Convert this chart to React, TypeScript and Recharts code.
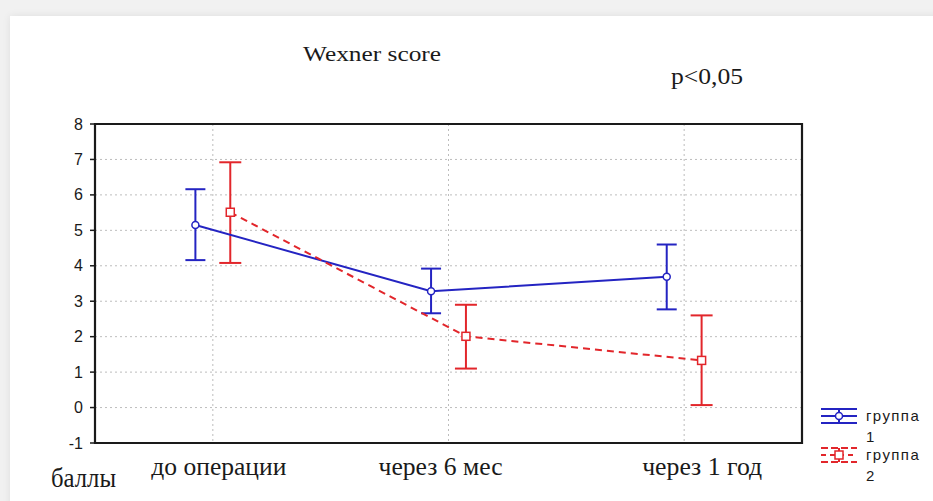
import React from 'react';
import { ComposedChart, Scatter, XAxis, YAxis, CartesianGrid, ErrorBar, ReferenceArea } from 'recharts';

const categories = ['до операции', 'через 6 мес', 'через 1 год'];
const yTicks = [-1, 0, 1, 2, 3, 4, 5, 6, 7, 8];

const group1Mean = [5.15, 3.28, 3.69];
const group1Upper = [6.16, 3.92, 4.6];
const group1Lower = [4.16, 2.66, 2.77];

const group2Mean = [5.51, 2.01, 1.33];
const group2Upper = [6.92, 2.9, 2.6];
const group2Lower = [4.08, 1.1, 0.07];

// label layout (style only)
const LABEL_WIDTHS = [135, 124, 120];
const LABEL_SHIFTS = [6, -8, 18];

const BLUE = '#2424c2';
const RED = '#e2262b';
const INK = '#1a1a1a';

const GROUP_SHIFT = 0.074;

const build = (mean: number[], upper: number[], lower: number[], shift: number) =>
  mean.map((m, i) => ({
    x: i + shift,
    y: m,
    err: [+(m - lower[i]).toFixed(3), +(upper[i] - m).toFixed(3)],
  }));

const group1 = build(group1Mean, group1Upper, group1Lower, -GROUP_SHIFT);
const group2 = build(group2Mean, group2Upper, group2Lower, GROUP_SHIFT);

const CircleMark = (props: any) => {
  const { cx, cy } = props;
  if (cx == null || cy == null) return null;
  return <circle cx={cx} cy={cy} r={3.5} fill="#fff" stroke={BLUE} strokeWidth={1.5} />;
};

const SquareMark = (props: any) => {
  const { cx, cy } = props;
  if (cx == null || cy == null) return null;
  return <rect x={cx - 4} y={cy - 4} width={8} height={8} fill="#fff" stroke={RED} strokeWidth={1.5} />;
};

const serif = "'Liberation Serif', 'Times New Roman', serif";
const sans = "'Liberation Sans', Arial, sans-serif";

const CategoryTick = (props: any) => {
  const { x, y, payload } = props;
  const i = Math.round(payload.value);
  const label = categories[i];
  if (!label) return null;
  return (
    <text
      x={x + LABEL_SHIFTS[i]}
      y={y + 24}
      textAnchor="middle"
      fontFamily={serif}
      fontSize={25}
      fill={INK}
      textLength={LABEL_WIDTHS[i]}
      lengthAdjust="spacingAndGlyphs"
    >
      {label}
    </text>
  );
};

const YTick = (props: any) => {
  const { x, y, payload } = props;
  return (
    <text x={x} y={y + 5.5} textAnchor="end" fontFamily={sans} fontSize={16} fill={INK}>
      {payload.value}
    </text>
  );
};

export default function App() {
  return (
    <div style={{ position: 'absolute', left: 0, top: 0, width: 933, height: 501, background: '#f1f1f1', overflow: 'hidden' }}>
      <div
        style={{
          position: 'absolute',
          left: 10,
          top: 16,
          width: 940,
          height: 500,
          background: '#fff',
          boxShadow: '0 0 8px rgba(0,0,0,0.08)',
        }}
      />
      <div style={{ position: 'absolute', left: 0, top: 0 }}>
        <ComposedChart width={933} height={501} margin={{ top: 124, right: 131, bottom: 28, left: 55 }}>
          <CartesianGrid stroke="#bdbdbd" strokeDasharray="2 3" strokeWidth={1} />
          <XAxis
            xAxisId={0}
            type="number"
            dataKey="x"
            domain={[-0.5, 2.5]}
            ticks={[0, 1, 2]}
            height={30}
            stroke={INK}
            axisLine={false}
            tickLine={false}
            tick={<CategoryTick />}
            interval={0}
            allowDataOverflow
          />
          <XAxis
            xAxisId="bm"
            type="number"
            orientation="bottom"
            mirror
            domain={[-0.5, 2.5]}
            ticks={[0, 1, 2]}
            stroke={INK}
            axisLine={false}
            tickLine={{ stroke: INK, strokeWidth: 1.5 }}
            tickSize={6}
            tick={false}
            allowDataOverflow
          />
          <XAxis
            xAxisId="t"
            type="number"
            orientation="top"
            mirror
            height={0}
            domain={[-0.5, 2.5]}
            ticks={[0, 1, 2]}
            stroke={INK}
            axisLine={false}
            tickLine={{ stroke: INK, strokeWidth: 1.5 }}
            tickSize={6}
            tick={false}
            allowDataOverflow
          />
          <YAxis
            yAxisId={0}
            type="number"
            dataKey="y"
            domain={[-1, 8]}
            ticks={yTicks}
            interval={0}
            width={40}
            stroke={INK}
            axisLine={false}
            tickLine={{ stroke: INK, strokeWidth: 1.5 }}
            tickSize={5}
            tickMargin={7}
            tick={<YTick />}
            allowDataOverflow
          />
          <YAxis
            yAxisId="r"
            type="number"
            orientation="right"
            mirror
            width={0}
            domain={[-1, 8]}
            ticks={yTicks}
            interval={0}
            stroke={INK}
            axisLine={false}
            tickLine={{ stroke: INK, strokeWidth: 1.5 }}
            tickSize={6}
            tick={false}
            allowDataOverflow
          />
          <ReferenceArea
            x1={-0.5}
            x2={2.5}
            y1={-1}
            y2={8}
            fill="none"
            fillOpacity={0}
            stroke={INK}
            strokeWidth={2.2}
            strokeOpacity={1}
            ifOverflow="visible"
          />
          <Scatter
            name="группа 1"
            data={group1}
            fill={BLUE}
            line={{ stroke: BLUE, strokeWidth: 2 }}
            lineType="joint"
            shape={<CircleMark />}
            isAnimationActive={false}
          >
            <ErrorBar dataKey="err" direction="y" width={10} stroke={BLUE} strokeWidth={2} isAnimationActive={false} />
          </Scatter>
          <Scatter
            name="группа 2"
            data={group2}
            fill={RED}
            line={{ stroke: RED, strokeWidth: 2, strokeDasharray: '7 5' }}
            lineType="joint"
            shape={<SquareMark />}
            isAnimationActive={false}
          >
            <ErrorBar dataKey="err" direction="y" width={11} stroke={RED} strokeWidth={2} isAnimationActive={false} />
          </Scatter>
        </ComposedChart>
      </div>
      <svg width={933} height={501} style={{ position: 'absolute', left: 0, top: 0, pointerEvents: 'none' }}>
        <text x={303} y={61} fontFamily={serif} fontSize={22} fill={INK} textLength={138} lengthAdjust="spacingAndGlyphs">
          Wexner score
        </text>
        <text x={671} y={84} fontFamily={serif} fontSize={24} fill={INK} textLength={72} lengthAdjust="spacingAndGlyphs">
          p&lt;0,05
        </text>
        <text x={51} y={487} fontFamily={serif} fontSize={27} fill={INK} textLength={65} lengthAdjust="spacingAndGlyphs">
          баллы
        </text>
        <g stroke={BLUE} strokeWidth={2} fill="none">
          <line x1={821} y1={409} x2={857} y2={409} />
          <line x1={821} y1={423} x2={857} y2={423} />
          <line x1={821} y1={416} x2={857} y2={416} />
          <line x1={839} y1={409} x2={839} y2={423} />
          <circle cx={839} cy={416} r={3.5} fill="#fff" strokeWidth={1.5} />
        </g>
        <text x={866} y={421} fontFamily={sans} fontSize={15} letterSpacing={1.4} fill={INK}>группа</text>
        <text x={866} y={442} fontFamily={sans} fontSize={15} fill={INK}>1</text>
        <g stroke={RED} strokeWidth={2} fill="none">
          <line x1={821} y1={448} x2={857} y2={448} strokeDasharray="7 3" />
          <line x1={821} y1={462} x2={857} y2={462} strokeDasharray="7 3" />
          <line x1={821} y1={455} x2={857} y2={455} strokeDasharray="5 4" />
          <line x1={839} y1={448} x2={839} y2={462} />
          <rect x={835} y={451} width={8} height={8} fill="#fff" strokeWidth={1.5} />
        </g>
        <text x={866} y={460} fontFamily={sans} fontSize={15} letterSpacing={1.4} fill={INK}>группа</text>
        <text x={866} y={481} fontFamily={sans} fontSize={15} fill={INK}>2</text>
      </svg>
    </div>
  );
}
